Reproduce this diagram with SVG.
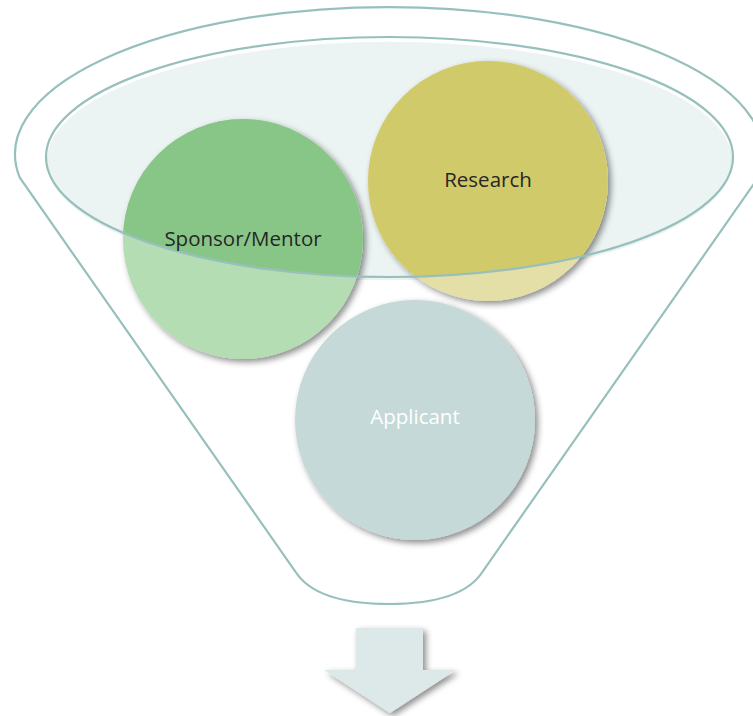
<svg xmlns="http://www.w3.org/2000/svg" width="753" height="716" viewBox="0 0 753 716">
<style>
.outline{fill:none;stroke:#97C0BD;stroke-width:2.2}
.lbl{font-family:"Open Sans","Liberation Sans",sans-serif;font-size:20.5px;text-anchor:middle}
.dark{fill:#262626}
.light{fill:#FFFFFF}
</style>
<defs>
<filter id="sh" x="-20%" y="-20%" width="150%" height="150%">
<feDropShadow dx="3" dy="3" stdDeviation="3" flood-color="#000" flood-opacity="0.45"/>
</filter>
<clipPath id="top">
<ellipse cx="389.5" cy="157" rx="343.5" ry="120"/>
</clipPath>
</defs>
<rect width="753" height="716" fill="#FFFFFF"/>
<g id="funnel">
<path class="outline" d="M20,178 A374,147 0 1 1 758,178 L483,571 C470,592 440,604 389,604 C338,604 308,592 295,571 Z"/>
<ellipse cx="389.5" cy="161" rx="343.5" ry="120" fill="#ECF3F3" stroke="#FFFFFF" stroke-width="1.5"/>
</g>
<g id="applicant">
<circle cx="415" cy="420" r="120" fill="#C4D9D8" filter="url(#sh)"/>
</g>
<g id="sponsor">
<circle cx="243" cy="239" r="120" fill="#B5DDB4" filter="url(#sh)"/>
<circle cx="243" cy="239" r="120" fill="#88C687" clip-path="url(#top)"/>
</g>
<g id="research">
<circle cx="488" cy="181" r="120" fill="#E3DFA6" filter="url(#sh)"/>
<circle cx="488" cy="181" r="120" fill="#D1CA6A" clip-path="url(#top)"/>
</g>
<g id="rim">
<ellipse class="outline" cx="389.5" cy="157" rx="343.5" ry="120"/>
</g>
<g id="labels">
<text class="lbl dark" x="243" y="246">Sponsor/Mentor</text>
<text class="lbl dark" x="488" y="187">Research</text>
<text class="lbl light" x="415" y="424">Applicant</text>
</g>
<g id="connectors">
<path d="M356,628 H423 V670 H456 L390,713 L324,670 H356 Z" fill="#DDE8E8" filter="url(#sh)"/>
</g>
</svg>
